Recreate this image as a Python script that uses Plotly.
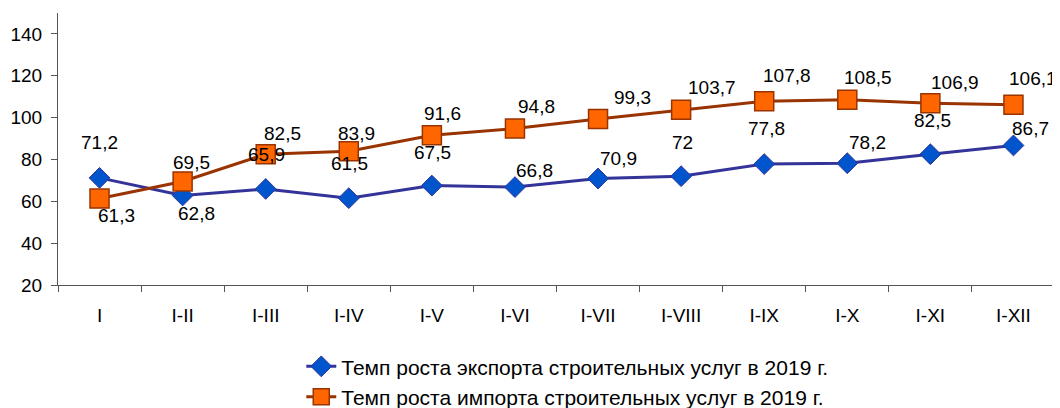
import plotly.graph_objects as go

categories = ["I", "I-II", "I-III", "I-IV", "I-V", "I-VI", "I-VII", "I-VIII", "I-IX", "I-X", "I-XI", "I-XII"]
export_vals = [71.2, 62.8, 65.9, 61.5, 67.5, 66.8, 70.9, 72.0, 77.8, 78.2, 82.5, 86.7]
import_vals = [61.3, 69.5, 82.5, 83.9, 91.6, 94.8, 99.3, 103.7, 107.8, 108.5, 106.9, 106.1]
export_name = "Темп роста экспорта строительных услуг в 2019 г."
import_name = "Темп роста импорта строительных услуг в 2019 г."
y_ticks = [20, 40, 60, 80, 100, 120, 140]

# label placement offsets (pixels), style only
export_dx = [0, 14, 1, 1, 1, 20, 20, 1, 2, 20, 2, 17]
export_dy = [35, -18, 34, 35, 33, 17, 20, 34, 36, 21, 34, 17]
import_dx = [17, 9, 17, 8, 11, 22, 34, 31, 23, 21, 25, 20]
import_dy = [-17, 19, 21, 18, 22, 22, 22, 22, 26, 22, 21, 26]

FONT = "Liberation Sans, Arial, sans-serif"
FS = 19

def fmt(v):
    s = ("%.1f" % v).rstrip("0").rstrip(".")
    return s.replace(".", ",")

fig = go.Figure()
fig.add_trace(go.Scatter(
    x=categories, y=export_vals, name=export_name, mode="lines+markers",
    line=dict(color="#333399", width=3),
    marker=dict(symbol="diamond", size=16, color="#0055CC", line=dict(color="#333399", width=1)),
))
fig.add_trace(go.Scatter(
    x=categories, y=import_vals, name=import_name, mode="lines+markers",
    line=dict(color="#993300", width=3),
    marker=dict(symbol="square", size=19, color="#FF6600", line=dict(color="#993300", width=1.5)),
))

for i, c in enumerate(categories):
    fig.add_annotation(x=c, y=export_vals[i], xref="x", yref="y", text=fmt(export_vals[i]),
                       showarrow=False, xshift=export_dx[i], yshift=export_dy[i],
                       font=dict(family=FONT, size=FS, color="#000000"))
    fig.add_annotation(x=c, y=import_vals[i], xref="x", yref="y", text=fmt(import_vals[i]),
                       showarrow=False, xshift=import_dx[i], yshift=import_dy[i],
                       font=dict(family=FONT, size=FS, color="#000000"))

# page body has an 8px margin, so the figure is sized/offset accordingly
fig.update_layout(
    template="none",
    width=1052, height=400,
    margin=dict(l=50, r=5, t=5, b=123, autoexpand=False),
    paper_bgcolor="white", plot_bgcolor="white",
    font=dict(family=FONT, size=FS, color="#000000"),
    showlegend=True,
    legend=dict(x=0.244, xanchor="left", y=-0.225, yanchor="top",
                font=dict(family=FONT, size=21, color="#000000"),
                bgcolor="rgba(0,0,0,0)", tracegroupgap=0),
    xaxis=dict(type="category", range=[-0.5, 11.5], showline=True, linecolor="#555555", linewidth=1,
               ticks="outside", tickson="boundaries", ticklen=6, tickcolor="#555555", automargin=False,
               showgrid=False, zeroline=False, tickfont=dict(size=FS), ticklabelstandoff=13),
    yaxis=dict(range=[20, 150], tickvals=y_ticks, showline=True, linecolor="#555555", linewidth=1,
               ticks="outside", ticklen=6, tickcolor="#555555", showgrid=False, zeroline=False,
               automargin=False, tickfont=dict(size=FS), ticklabelstandoff=5),
)

fig.write_html("out.html")
